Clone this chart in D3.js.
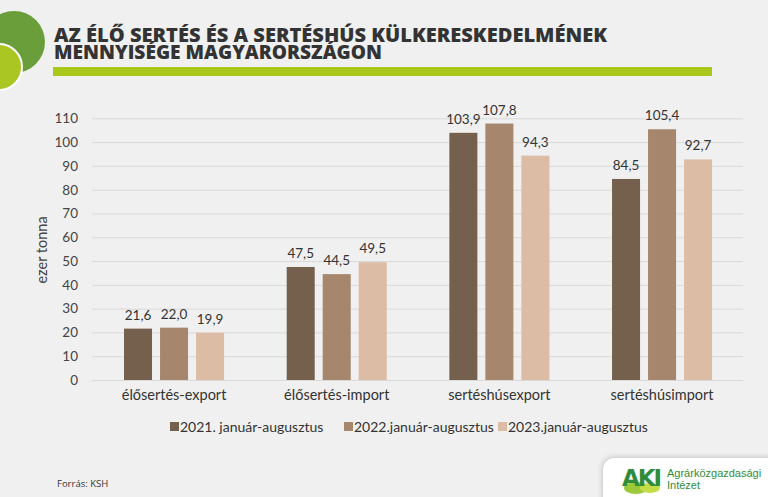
<!DOCTYPE html>
<html><head><meta charset="utf-8">
<script src="https://cdn.jsdelivr.net/npm/d3@7"></script>
<style>html,body{margin:0;padding:0;background:#f0f0f0;}svg{display:block;}</style>
</head><body>
<svg id="chart" width="768" height="497"></svg>
<script>
const categories = ["élősertés-export", "élősertés-import", "sertéshúsexport", "sertéshúsimport"];
const seriesNames = ["2021. január-augusztus", "2022.január-augusztus", "2023.január-augusztus"];
const values2021 = [21.6, 47.5, 103.9, 84.5];
const values2022 = [22.0, 44.5, 107.8, 105.4];
const values2023 = [19.9, 49.5, 94.3, 92.7];
const yTicks = [0, 10, 20, 30, 40, 50, 60, 70, 80, 90, 100, 110];
const colors = ["#74604d", "#a6866d", "#dcbca5"];
const titleLines = ["AZ ÉLŐ SERTÉS ÉS A SERTÉSHÚS KÜLKERESKEDELMÉNEK", "MENNYISÉGE MAGYARORSZÁGON"];

const series = [values2021, values2022, values2023];
const svg = d3.select("#chart");
const font = "Lato, 'Open Sans', sans-serif";

svg.append("rect").attr("width", 768).attr("height", 497).attr("fill", "#f0f0f0");

// decorative circles
svg.append("circle").attr("cx", 14).attr("cy", 42).attr("r", 31).attr("fill", "#6a9e3b");
svg.append("circle").attr("cx", -1).attr("cy", 67).attr("r", 23).attr("fill", "#a9c622")
  .attr("stroke", "#ffffff").attr("stroke-width", 2);

// title: one text element, two lines
const title = svg.append("text").attr("transform", "translate(54,41.5) scale(1,1.25)")
  .attr("font-family", "'Open Sans', sans-serif").attr("font-weight", 800).attr("font-size", 15.6)
  .attr("fill", "#333333");
title.append("tspan").attr("x", 0).attr("y", 0).attr("textLength", 553).attr("lengthAdjust", "spacingAndGlyphs").text(titleLines[0]);
title.append("tspan").attr("x", 0).attr("y", 17 / 1.25).attr("textLength", 328).attr("lengthAdjust", "spacingAndGlyphs").text(titleLines[1]);
svg.append("rect").attr("x", 53).attr("y", 67).attr("width", 659).attr("height", 9).attr("fill", "#a9c81c");

// scales
const y = d3.scaleLinear().domain([0, 110]).range([380, 118.3]);
const x0 = d3.scaleBand().domain(categories).range([92.7, 743.4]).paddingInner(0.385).paddingOuter(0.385 / 2);
const x1 = d3.scaleBand().domain(d3.range(3)).range([0, x0.bandwidth()]).paddingInner(8 / 36);

// grid
svg.append("g").selectAll("line").data(yTicks).join("line")
  .attr("x1", 92).attr("x2", 743).attr("y1", d => y(d) + 0.5).attr("y2", d => y(d) + 0.5)
  .attr("stroke", "#d9d9d9").attr("stroke-width", 1);

// y axis labels
const yAxis = svg.append("g").attr("transform", "translate(92,0)")
  .call(d3.axisLeft(y).tickValues(yTicks).tickSize(0).tickPadding(14));
yAxis.select(".domain").remove();
yAxis.selectAll("text").attr("font-family", font).attr("font-size", 13.5).attr("fill", "#444");

svg.append("text").attr("transform", "translate(47,250) rotate(-90)").attr("text-anchor", "middle")
  .attr("font-family", font).attr("font-size", 14.5).attr("fill", "#444").text("ezer tonna");

// bars
const groups = svg.append("g").selectAll("g").data(categories).join("g")
  .attr("transform", d => `translate(${x0(d)},0)`);
groups.selectAll("rect").data((d, i) => series.map((s, j) => ({ j, v: s[i] }))).join("rect")
  .attr("x", d => x1(d.j)).attr("width", x1.bandwidth())
  .attr("y", d => y(d.v)).attr("height", d => y(0) - y(d.v)).attr("fill", d => colors[d.j]);
groups.selectAll("text").data((d, i) => series.map((s, j) => ({ j, v: s[i] }))).join("text")
  .attr("x", d => x1(d.j) + x1.bandwidth() / 2).attr("y", d => y(d.v) - 9)
  .attr("text-anchor", "middle").attr("font-family", font).attr("font-size", 13.5).attr("fill", "#333")
  .text(d => d.v.toFixed(1).replace(".", ","));

// x category labels
const xAxis = svg.append("g").attr("transform", "translate(0,380)")
  .call(d3.axisBottom(x0).tickSize(0).tickPadding(10));
xAxis.select(".domain").remove();
xAxis.selectAll("text").attr("font-family", font).attr("font-size", 14.5).attr("fill", "#333");

// legend
const legendX = [170, 344, 498];
const lg = svg.append("g").selectAll("g").data(seriesNames).join("g")
  .attr("transform", (d, i) => `translate(${legendX[i]},427)`);
lg.append("rect").attr("x", 0).attr("y", -5).attr("width", 9).attr("height", 9).attr("fill", (d, i) => colors[i]);
lg.append("text").attr("x", 10).attr("y", 4.5).attr("font-family", font).attr("font-size", 14).attr("fill", "#333").text(d => d);

// source
svg.append("text").attr("x", 57).attr("y", 487).attr("font-family", "'Open Sans', sans-serif").attr("font-size", 9.5)
  .attr("fill", "#333").text("Forrás: KSH");

// logo box
const defs = svg.append("defs");
const f = defs.append("filter").attr("id", "sh").attr("x", "-20%").attr("y", "-40%").attr("width", "140%").attr("height", "180%");
f.append("feDropShadow").attr("dx", -1).attr("dy", -1).attr("stdDeviation", 2.5).attr("flood-color", "#000").attr("flood-opacity", 0.18);
svg.append("rect").attr("x", 603).attr("y", 458).attr("width", 200).attr("height", 60).attr("rx", 12)
  .attr("fill", "#ffffff").attr("filter", "url(#sh)");
svg.append("ellipse").attr("cx", 636).attr("cy", 488).attr("rx", 12).attr("ry", 6).attr("fill", "#9cc83a");
svg.append("ellipse").attr("cx", 650).attr("cy", 488).attr("rx", 10).attr("ry", 5).attr("fill", "#c4dc48");
svg.append("text").attr("x", 622).attr("y", 486).attr("font-family", "'DejaVu Sans', sans-serif").attr("font-weight", 900)
  .attr("font-size", 23).attr("letter-spacing", -2).attr("fill", "#2f8c3a").text("AKI");
svg.append("text").attr("x", 667).attr("y", 477).attr("font-family", "'Liberation Sans', Arial, sans-serif")
  .attr("font-size", 11).attr("fill", "#2f8c3a").text("Agrárközgazdasági");
svg.append("text").attr("x", 667).attr("y", 489).attr("font-family", "'Liberation Sans', Arial, sans-serif")
  .attr("font-size", 11).attr("fill", "#2f8c3a").text("Intézet");
</script>
</body></html>
